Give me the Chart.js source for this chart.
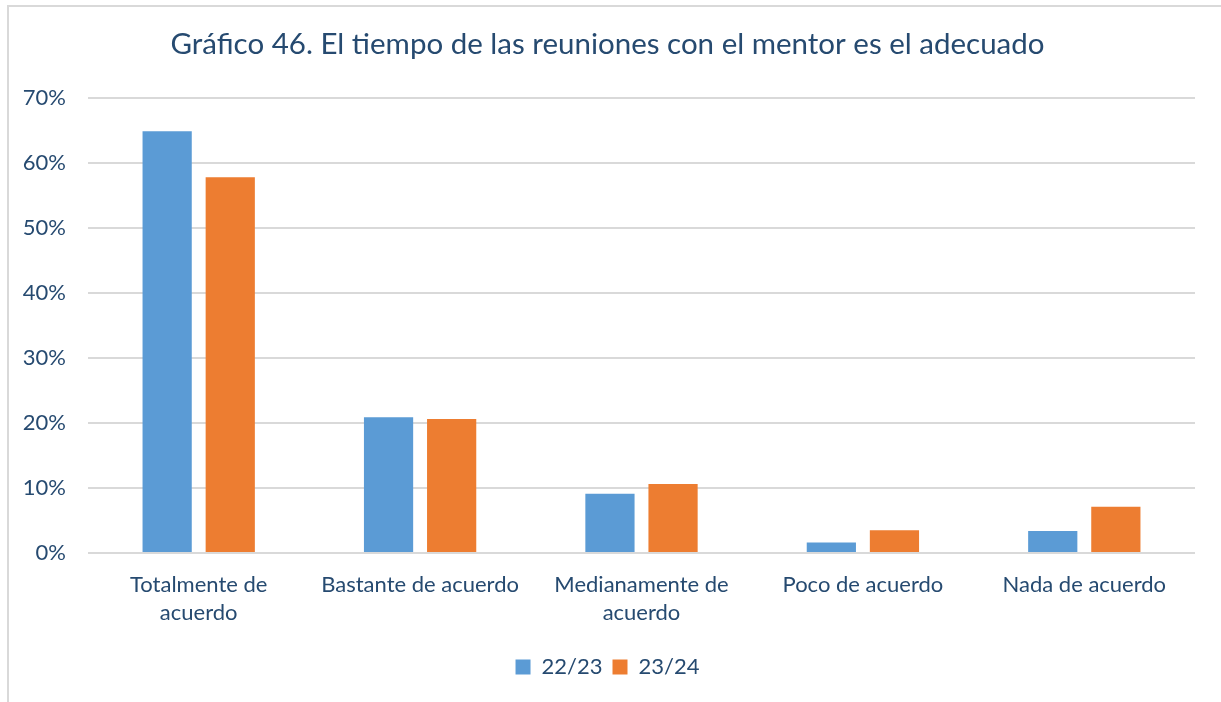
<!DOCTYPE html>
<html>
<head>
<meta charset="utf-8">
<script src="https://cdn.jsdelivr.net/npm/chart.js@4"></script>
<style>
  html, body { margin: 0; padding: 0; background: #fff; overflow: hidden; }
  .frame {
    position: absolute; left: 7px; top: 5px;
    width: 1240px; height: 720px;
    border: 2px solid #d9d9d9;
  }
  #myChart { position: absolute; left: 0; top: 0; }
</style>
</head>
<body>
<div class="frame"></div>
<canvas id="myChart" width="1221" height="702"></canvas>
<script>
var categories = [
  ["Totalmente de", "acuerdo"],
  "Bastante de acuerdo",
  ["Medianamente de", "acuerdo"],
  "Poco de acuerdo",
  "Nada de acuerdo"
];
var curso2223 = [0.649, 0.209, 0.091, 0.016, 0.034];
var curso2324 = [0.578, 0.206, 0.106, 0.035, 0.071];
var seriesNames = ["22/23", "23/24"];
var barColors = ["#5b9bd5", "#ed7d31"];

var textColor = "#264a70";
var fontFamily = "Lato, 'Open Sans', sans-serif";

new Chart("myChart", {
  type: "bar",
  data: {
    labels: categories,
    datasets: [{
      label: seriesNames[0],
      data: curso2223,
      backgroundColor: barColors[0]
    }, {
      label: seriesNames[1],
      data: curso2324,
      backgroundColor: barColors[1]
    }]
  },
  options: {
    responsive: false,
    animation: false,
    categoryPercentage: 0.57,
    barPercentage: 0.78,
    layout: { padding: { top: 27, left: 20, right: 26, bottom: 14 } },
    plugins: {
      title: {
        display: true,
        text: "Gráfico 46. El tiempo de las reuniones con el mentor es el adecuado",
        color: textColor,
        font: { family: fontFamily, size: 29.5, weight: "normal", lineHeight: 1.2 },
        padding: { top: 0, bottom: 35.6 }
      },
      legend: {
        position: "bottom",
        labels: {
          color: textColor,
          font: { family: fontFamily, size: 22 },
          boxWidth: 15,
          boxHeight: 15,
          padding: 10
        }
      },
      tooltip: { enabled: false }
    },
    scales: {
      x: {
        afterFit: function (scale) { scale.height = 93; },
        grid: { display: false, drawTicks: false },
        border: { display: false },
        ticks: {
          color: textColor,
          font: { family: fontFamily, size: 22, lineHeight: 1.27 },
          maxRotation: 0,
          padding: 18
        }
      },
      y: {
        min: 0,
        max: 0.7,
        afterFit: function (scale) { scale.width = 68; },
        grid: { color: "#d9d9d9", lineWidth: 2, drawTicks: false },
        border: { display: false },
        ticks: {
          stepSize: 0.1,
          color: textColor,
          font: { family: fontFamily, size: 22 },
          padding: 22,
          callback: function (v) { return Math.round(v * 100) + "%"; }
        }
      }
    }
  }
});
</script>
</body>
</html>
